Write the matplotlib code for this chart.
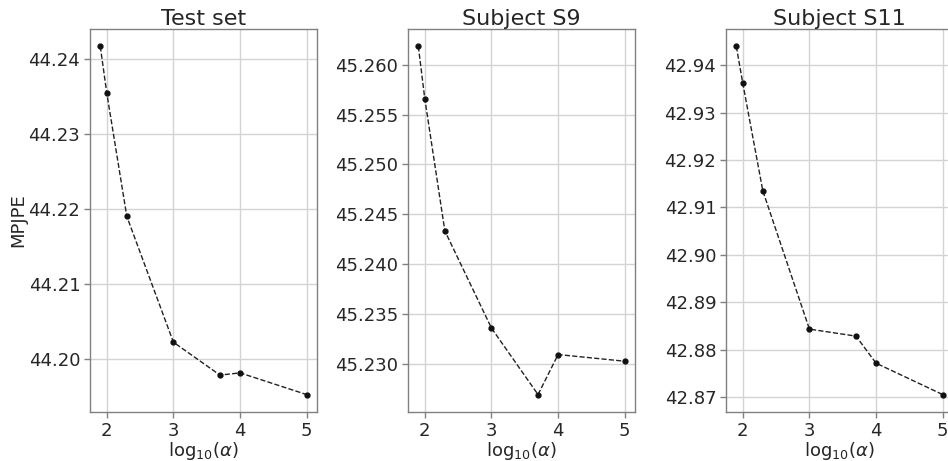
import numpy as np
import matplotlib
matplotlib.use('Agg')
import matplotlib.pyplot as plt

# regularisation weights, shown as log10(alpha)
alphas = [80, 100, 200, 1000, 5000, 10000, 100000]
titles = ['Test set', 'Subject S9', 'Subject S11']

# MPJPE
mpjpe_test = [44.2417, 44.2355, 44.2190, 44.2022, 44.1978, 44.1981, 44.1952]
mpjpe_s9 = [45.26184, 45.25658, 45.24331, 45.23356, 45.22688, 45.23090, 45.23023]
mpjpe_s11 = [42.9440, 42.93626, 42.91350, 42.88431, 42.88283, 42.87712, 42.87049]

yticks_test = [44.20, 44.21, 44.22, 44.23, 44.24]
yticks_s9 = [45.230, 45.235, 45.240, 45.245, 45.250, 45.255, 45.260]
yticks_s11 = [42.87, 42.88, 42.89, 42.90, 42.91, 42.92, 42.93, 42.94]
tick_fmt = ['%.2f', '%.3f', '%.2f']

text_col = '#262626'
plt.rcParams['font.family'] = 'DejaVu Sans'
plt.rcParams['mathtext.fontset'] = 'dejavusans'

fig = plt.figure(figsize=(9.48, 4.61), dpi=100)
lefts = [0.0949, 0.4304, 0.7658]
x = np.log10(alphas)

for i, (ys, yt) in enumerate(zip([mpjpe_test, mpjpe_s9, mpjpe_s11],
                                 [yticks_test, yticks_s9, yticks_s11])):
    ax = fig.add_axes([lefts[i], 0.1063, 0.2395, 0.8308])
    ax.plot(x, ys, '--', color='#222222', lw=1.0, marker='o', ms=3.5,
            markerfacecolor='#111111', markeredgecolor='#111111')
    ax.set_xticks([2, 3, 4, 5])
    ax.set_yticks(yt)
    ax.set_yticklabels([tick_fmt[i] % v for v in yt])
    ax.grid(True, color='#d3d3d3', lw=1.0)
    ax.set_axisbelow(True)
    for s in ax.spines.values():
        s.set_color('#808080')
        s.set_linewidth(1.0)
    ax.tick_params(colors='#808080', labelcolor=text_col, labelsize=13,
                   length=4, width=1, pad=3)
    ax.set_title(titles[i], fontsize=16, color=text_col, pad=3)
    ax.set_xlabel(r'log$_{10}(\alpha)$', fontsize=13, color=text_col, labelpad=0)
    if i == 0:
        ax.set_ylabel('MPJPE', fontsize=13, color=text_col, labelpad=1)

plt.savefig('out.png', dpi=100)
